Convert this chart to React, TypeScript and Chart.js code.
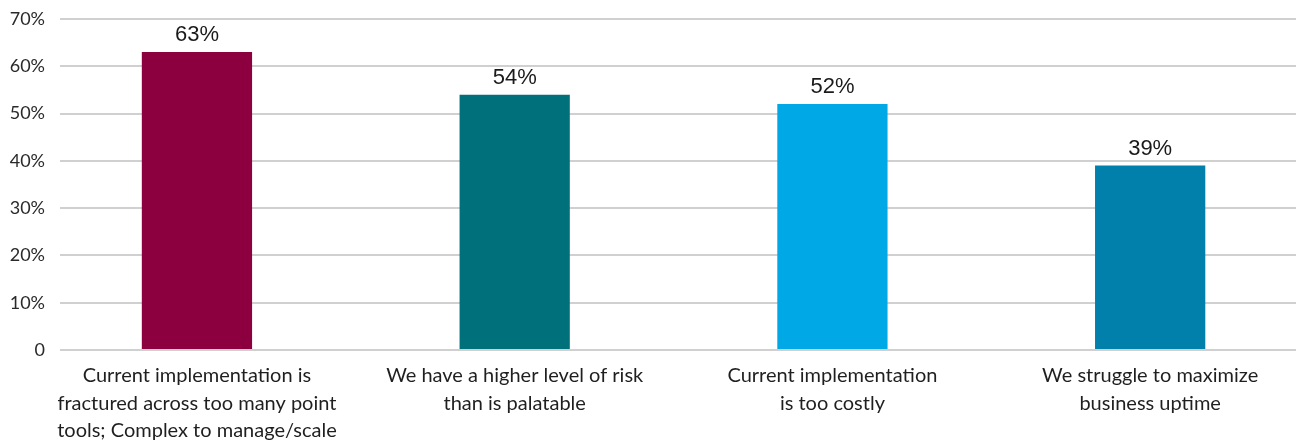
import React, { useEffect, useRef } from "react";
import { Chart, registerables } from "chart.js";

Chart.register(...registerables);

// Survey responses: reasons given, share of respondents (%)
const categories: string[][] = [
  ["Current implementation is", "fractured across too many point", "tools; Complex to manage/scale"],
  ["We have a higher level of risk", "than is palatable"],
  ["Current implementation", "is too costly"],
  ["We struggle to maximize", "business uptime"],
];
const values: number[] = [63, 54, 52, 39];
const barColors: string[] = ["#8c003f", "#00707a", "#00a8e5", "#0080aa"];
const yTickValues: number[] = [0, 10, 20, 30, 40, 50, 60, 70];

// Horizontal extent of the index axis (bars sit at 0..3)
const X_MIN = -0.431;
const X_MAX = 3.459;

const UI_FONT = "Lato, 'Open Sans', sans-serif";
const LABEL_FONT = "'Liberation Sans', Arial, sans-serif";

const valueLabels = {
  id: "valueLabels",
  afterDatasetsDraw(chart: any) {
    const ctx = chart.ctx;
    const meta = chart.getDatasetMeta(0);
    ctx.save();
    ctx.font = `22px ${LABEL_FONT}`;
    ctx.fillStyle = "#1a1a1a";
    ctx.textAlign = "center";
    ctx.textBaseline = "bottom";
    meta.data.forEach((bar: any, i: number) => {
      ctx.fillText(`${values[i]}%`, bar.x, bar.y - 6);
    });
    ctx.restore();
  },
};

export default function App() {
  const canvasRef = useRef<HTMLCanvasElement | null>(null);

  useEffect(() => {
    document.body.style.margin = "0";
    if (!canvasRef.current) return;
    const chart = new Chart(canvasRef.current, {
      type: "bar",
      data: {
        datasets: [
          {
            data: values.map((v, i) => ({ x: i, y: v })),
            backgroundColor: barColors,
            borderWidth: 0,
            barPercentage: 0.347,
            categoryPercentage: 1,
          },
        ],
      },
      options: {
        responsive: false,
        animation: false,
        devicePixelRatio: 1,
        layout: { autoPadding: false, padding: { top: 19, right: 0, left: 0, bottom: 0 } },
        plugins: {
          legend: { display: false },
          tooltip: { enabled: false },
        },
        scales: {
          x: {
            type: "linear",
            min: X_MIN,
            max: X_MAX,
            offset: false,
            grid: { display: false, offset: false },
            border: { display: false },
            afterBuildTicks: (scale: any) => {
              scale.ticks = categories.map((_, i) => ({ value: i }));
            },
            afterFit: (scale: any) => {
              scale.height = 93;
              scale.paddingLeft = 0;
              scale.paddingRight = 0;
            },
            ticks: {
              autoSkip: false,
              maxRotation: 0,
              padding: 4,
              color: "#1f1f1f",
              font: { family: UI_FONT, size: 20, lineHeight: 1.38 },
              callback: (v: any) => categories[Math.round(Number(v))] ?? "",
            },
          },
          y: {
            min: 0,
            max: 70,
            afterBuildTicks: (scale: any) => {
              scale.ticks = yTickValues.map((v) => ({ value: v }));
            },
            afterFit: (scale: any) => {
              scale.width = 60;
              scale.paddingTop = 0;
              scale.paddingBottom = 0;
            },
            grid: { color: "#d0d0d0", lineWidth: 2, drawTicks: false },
            border: { display: false },
            ticks: {
              padding: 15,
              color: "#2a2a2a",
              font: { family: UI_FONT, size: 18, lineHeight: 0.5 },
              callback: (v: any) => (Number(v) === 0 ? "0" : `${v}%`),
            },
          },
        },
      },
      plugins: [valueLabels],
    } as any);
    return () => chart.destroy();
  }, []);

  return (
    <div style={{ width: 1296, height: 443, background: "#ffffff" }}>
      <canvas ref={canvasRef} width={1296} height={443} />
    </div>
  );
}
